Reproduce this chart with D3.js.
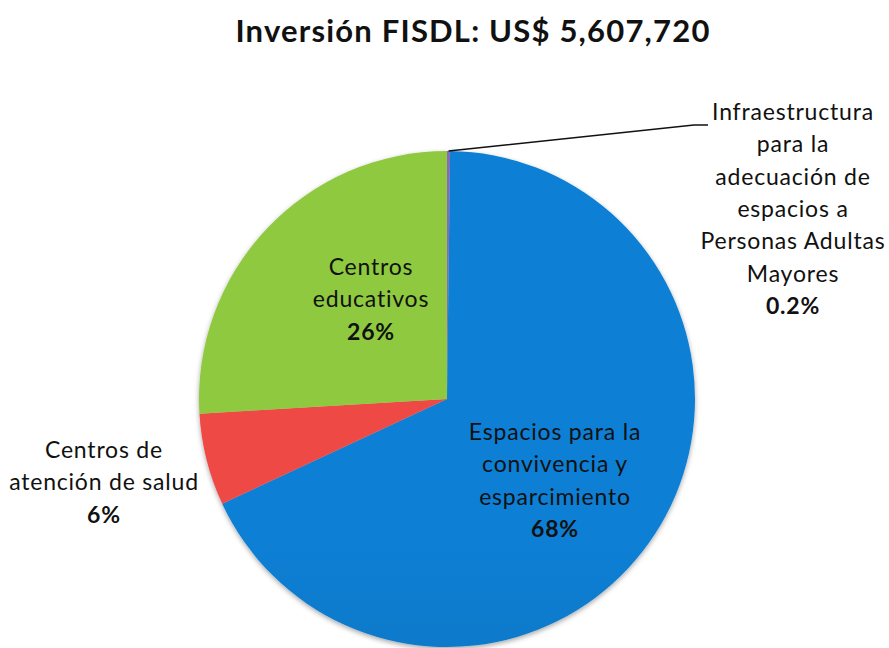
<!DOCTYPE html>
<html><head><meta charset="utf-8">
<script src="https://cdn.jsdelivr.net/npm/d3@7/dist/d3.min.js"></script>
<style>body{margin:0;background:#fff}svg{display:block}</style>
</head><body>
<svg id="c" width="889" height="648"></svg>
<script>
const title = "Inversión FISDL: US$ 5,607,720";
const categories = ["Infraestructura para la adecuación de espacios a Personas Adultas Mayores","Espacios para la convivencia y esparcimiento","Centros de atención de salud","Centros educativos"];
const values = [0.2, 68, 6, 26];
const pctLabels = ["0.2%","68%","6%","26%"];
const labelLines = [
  ["Infraestructura","para la","adecuación de","espacios a","Personas Adultas","Mayores"],
  ["Espacios para la","convivencia y","esparcimiento"],
  ["Centros de","atención de salud"],
  ["Centros","educativos"]
];
const colorsTop = ["#8a6bb8","#117fd4","#ee4a44","#8fc941"];
const colorsBot = ["#6a4d96","#0a62a2","#b0302a","#679b2a"];

const svg = d3.select("#c");
const font = "Lato, 'Open Sans', sans-serif";
const cx = 447, cy = 399, r = 248;

svg.append("text").attr("x", 473).attr("y", 42).attr("text-anchor","middle")
  .attr("font-family", font).attr("font-weight", "bold").attr("font-size", 31)
  .attr("letter-spacing", 1.2)
  .attr("fill", "#111").text(title);

const defs = svg.append("defs");
values.forEach((v,i)=>{
  const g = defs.append("linearGradient").attr("id","g"+i)
    .attr("gradientUnits","userSpaceOnUse").attr("x1",0).attr("y1",cy-r).attr("x2",0).attr("y2",cy+r);
  g.append("stop").attr("offset","0%").attr("stop-color",colorsTop[i]);
  g.append("stop").attr("offset","100%").attr("stop-color",colorsBot[i]);
});
const f = defs.append("filter").attr("id","sh").attr("x","-10%").attr("y","-10%").attr("width","120%").attr("height","125%");
f.append("feDropShadow").attr("dx",0).attr("dy",2).attr("stdDeviation",2.5).attr("flood-color","#000").attr("flood-opacity",0.35);

const pie = d3.pie().sort(null).value(d=>d)(values);
const arc = d3.arc().innerRadius(0).outerRadius(r);
const gPie = svg.append("g").attr("transform",`translate(${cx},${cy})`).attr("filter","url(#sh)");
gPie.selectAll("path").data(pie).join("path")
  .attr("d", arc).attr("fill",(d,i)=>`url(#g${i})`);

// Labels
const labelPos = [[793,120],[555,440],[104,458],[371,275]];
const lh = 32.3;
labelLines.forEach((lines,i)=>{
  const t = svg.append("text").attr("text-anchor","middle").attr("font-family",font)
    .attr("font-size",23).attr("letter-spacing",0.8).attr("fill","#111");
  lines.forEach((l,j)=>{
    t.append("tspan").attr("x",labelPos[i][0]).attr("y",labelPos[i][1]+j*lh).text(l);
  });
  t.append("tspan").attr("x",labelPos[i][0]).attr("y",labelPos[i][1]+lines.length*lh)
    .attr("font-weight","bold").text(pctLabels[i]);
});

// leader line for small slice
const mid = (pie[0].startAngle+pie[0].endAngle)/2;
const p0 = [cx + r*Math.sin(mid), cy - r*Math.cos(mid)];
svg.append("path").attr("d", d3.line()([p0,[694,125],[708,125]]))
  .attr("fill","none").attr("stroke","#111").attr("stroke-width",1.6);
</script>
</body></html>
